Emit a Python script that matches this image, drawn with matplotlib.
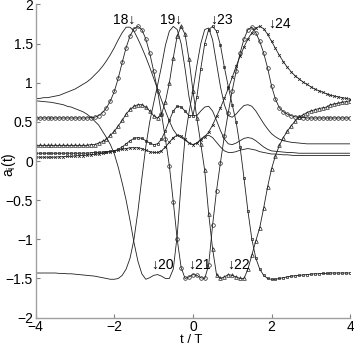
import numpy as np
import matplotlib
matplotlib.use("Agg")
import matplotlib.pyplot as plt

plt.rcParams['font.family'] = ['Liberation Sans', 'DejaVu Sans']

# sample times t/T, every 0.1 from -4 to 4
t = np.round(np.linspace(-4, 4, 81), 2)

# a_i(t), one value per sample time
a18 = [0.80, 0.80, 0.81, 0.81, 0.82, 0.83, 0.84, 0.86, 0.88, 0.90,
       0.92, 0.95, 0.98, 1.01, 1.05, 1.10, 1.15, 1.21, 1.28, 1.36,
       1.45, 1.55, 1.64, 1.71, 1.71, 1.66, 1.56, 1.45, 1.33, 1.20,
       1.06, 0.92, 0.78, 0.64, 0.51, 0.40, 0.33, 0.30, 0.27, 0.23,
       0.21, 0.23, 0.28, 0.32, 0.33, 0.30, 0.24, 0.18, 0.13, 0.11,
       0.11, 0.12, 0.14, 0.15, 0.16, 0.15, 0.14, 0.12, 0.11, 0.10,
       0.09, 0.09, 0.085, 0.08, 0.08, 0.075, 0.07, 0.07, 0.07, 0.07,
       0.07, 0.07, 0.07, 0.07, 0.07, 0.07, 0.07, 0.07, 0.07, 0.07, 0.07]
a19 = [-1.43, -1.43, -1.43, -1.43, -1.43, -1.43, -1.435, -1.435, -1.44, -1.44,
       -1.445, -1.45, -1.455, -1.46, -1.465, -1.47, -1.48, -1.49, -1.50, -1.51,
       -1.51, -1.50, -1.46, -1.38, -1.24, -1.00, -0.64, -0.22, 0.18, 0.50,
       0.74, 0.97, 1.21, 1.48, 1.66, 1.72, 1.68, 1.50, 1.18, 0.82,
       0.58, 0.58, 0.64, 0.69, 0.70, 0.64, 0.52, 0.39, 0.28, 0.22,
       0.21, 0.23, 0.26, 0.29, 0.30, 0.29, 0.26, 0.22, 0.18, 0.15,
       0.13, 0.125, 0.12, 0.115, 0.11, 0.11, 0.105, 0.10, 0.10, 0.10,
       0.10, 0.10, 0.10, 0.10, 0.10, 0.10, 0.10, 0.10, 0.10, 0.10, 0.10]
a20 = [0.77, 0.765, 0.76, 0.755, 0.75, 0.74, 0.73, 0.72, 0.70, 0.69,
       0.67, 0.65, 0.63, 0.60, 0.56, 0.51, 0.46, 0.38, 0.30, 0.21,
       0.09, -0.08, -0.28, -0.50, -0.76, -1.04, -1.28, -1.44, -1.51, -1.49,
       -1.46, -1.45, -1.47, -1.50, -1.50, -1.38, -0.95, -0.28, 0.30, 0.62,
       0.90, 1.22, 1.50, 1.68, 1.70, 1.55, 1.25, 0.95, 0.72, 0.58,
       0.56, 0.60, 0.66, 0.71, 0.72, 0.70, 0.64, 0.56, 0.48, 0.41,
       0.35, 0.31, 0.28, 0.26, 0.25, 0.24, 0.235, 0.23, 0.225, 0.22,
       0.22, 0.22, 0.22, 0.22, 0.22, 0.22, 0.22, 0.22, 0.22, 0.22, 0.22]
a21 = [0.55, 0.55, 0.55, 0.55, 0.55, 0.55, 0.55, 0.55, 0.55, 0.55,
       0.55, 0.55, 0.55, 0.55, 0.555, 0.56, 0.58, 0.62, 0.68, 0.77,
       0.89, 1.06, 1.26, 1.45, 1.60, 1.69, 1.72, 1.68, 1.56, 1.38,
       1.15, 0.90, 0.60, 0.28, -0.06, -0.52, -1.00, -1.36, -1.50, -1.48,
       -1.45, -1.46, -1.49, -1.50, -1.33, -0.82, -0.38, -0.02, 0.32, 0.62,
       0.90, 1.15, 1.38, 1.56, 1.68, 1.71, 1.64, 1.53, 1.38, 1.19,
       0.96, 0.79, 0.68, 0.63, 0.60, 0.58, 0.565, 0.56, 0.555, 0.55,
       0.55, 0.55, 0.55, 0.55, 0.55, 0.55, 0.55, 0.55, 0.55, 0.55, 0.55]
a22 = [0.20, 0.20, 0.20, 0.20, 0.20, 0.20, 0.20, 0.20, 0.20, 0.20,
       0.20, 0.20, 0.20, 0.20, 0.21, 0.21, 0.23, 0.25, 0.28, 0.33,
       0.38, 0.45, 0.52, 0.60, 0.66, 0.70, 0.72, 0.72, 0.69, 0.64,
       0.58, 0.55, 0.60, 0.76, 1.00, 1.32, 1.60, 1.72, 1.62, 1.30,
       0.90, 0.55, 0.22, -0.12, -0.67, -1.12, -1.45, -1.50, -1.48, -1.45,
       -1.46, -1.48, -1.50, -1.50, -1.38, -1.20, -1.02, -0.85, -0.60, -0.33,
       -0.10, 0.07, 0.20, 0.30, 0.38, 0.45, 0.51, 0.56, 0.59, 0.62,
       0.64, 0.655, 0.67, 0.68, 0.69, 0.72, 0.73, 0.74, 0.75, 0.76, 0.77]
a23 = [0.10, 0.10, 0.10, 0.10, 0.10, 0.10, 0.10, 0.10, 0.10, 0.10,
       0.10, 0.10, 0.10, 0.10, 0.105, 0.11, 0.11, 0.115, 0.12, 0.125,
       0.13, 0.15, 0.18, 0.22, 0.26, 0.29, 0.30, 0.29, 0.26, 0.23,
       0.21, 0.22, 0.28, 0.39, 0.52, 0.64, 0.70, 0.69, 0.64, 0.58,
       0.58, 0.82, 1.18, 1.50, 1.68, 1.72, 1.66, 1.48, 1.20, 0.95,
       0.72, 0.50, 0.18, -0.22, -0.64, -1.00, -1.24, -1.38, -1.46, -1.50,
       -1.51, -1.51, -1.50, -1.49, -1.48, -1.47, -1.465, -1.46, -1.455, -1.45,
       -1.445, -1.44, -1.44, -1.435, -1.435, -1.43, -1.43, -1.43, -1.43, -1.43, -1.43]
a24 = [0.05, 0.05, 0.05, 0.05, 0.05, 0.05, 0.055, 0.055, 0.06, 0.06,
       0.065, 0.07, 0.07, 0.075, 0.08, 0.085, 0.09, 0.10, 0.11, 0.12,
       0.13, 0.14, 0.15, 0.16, 0.17, 0.17, 0.17, 0.16, 0.14, 0.12,
       0.11, 0.11, 0.13, 0.18, 0.24, 0.30, 0.33, 0.32, 0.28, 0.23,
       0.21, 0.23, 0.27, 0.31, 0.37, 0.46, 0.57, 0.68, 0.80, 0.93,
       1.07, 1.21, 1.34, 1.46, 1.56, 1.64, 1.70, 1.72, 1.69, 1.62,
       1.53, 1.44, 1.35, 1.27, 1.20, 1.14, 1.09, 1.05, 1.01, 0.98,
       0.95, 0.92, 0.90, 0.88, 0.86, 0.84, 0.83, 0.82, 0.81, 0.80, 0.79]

# curve labels: text, t, a, alignment
labels = [("18↓", -1.47, 1.81, 'right'), ("19↓", -0.27, 1.81, 'right'),
          ("↓23", 0.44, 1.81, 'left'), ("↓24", 1.91, 1.76, 'left'),
          ("↓20", -1.07, -1.32, 'left'), ("↓21", -0.12, -1.32, 'left'),
          ("↓22", 0.87, -1.32, 'left')]

fig = plt.figure(figsize=(3.54, 3.46), dpi=100)
ax = fig.add_axes([0.101, 0.082, 0.888, 0.905])
col = "#202020"
ms = 2.6
for a in (a18, a19, a20):
    ax.plot(t, a, '-', color=col, lw=0.6)
ax.plot(t, a21, '-o', color=col, lw=0.6, ms=ms, mfc='none', mew=0.5)
ax.plot(t, a22, '-^', color=col, lw=0.6, ms=ms, mfc='none', mew=0.5)
ax.plot(t, a23, '-s', color=col, lw=0.6, ms=ms - 0.6, mfc='none', mew=0.5)
ax.plot(t, a24, '-x', color=col, lw=0.6, ms=ms - 0.6, mew=0.5)

for s, x, y, ha in labels:
    ax.text(x, y, s, ha=ha, va='center', fontsize=10,
            family=['Liberation Sans', 'DejaVu Sans'])

ax.set_xlim(-4, 4)
ax.set_ylim(-2, 2)
ax.set_xticks([-4, -2, 0, 2, 4])
ax.set_yticks([-2, -1.5, -1, -0.5, 0, 0.5, 1, 1.5, 2])
ax.set_yticklabels(['−2', '−1.5', '−1', '−0.5', '0', '0.5', '1', '1.5', '2'])
ax.set_xticklabels(['−4', '−2', '0', '2', '4'])
ax.tick_params(direction='in', labelsize=10, length=3, color='#808080')
ax.tick_params(axis='x', pad=1.5)
ax.tick_params(axis='y', pad=2)
for s in ('top', 'right'):
    ax.spines[s].set_visible(False)
for s in ('left', 'bottom'):
    ax.spines[s].set_color('#a0a0a0')
    ax.spines[s].set_linewidth(1.0)
ax.set_xlabel('t / T', fontsize=9.5, va='center')
ax.xaxis.set_label_coords(0.495, -0.071)
ax.set_ylabel('a$_\\mathregular{i}$(t)', fontsize=10, va='center')
ax.yaxis.set_label_coords(-0.085, 0.49)
fig.savefig("out.png", dpi=100)
